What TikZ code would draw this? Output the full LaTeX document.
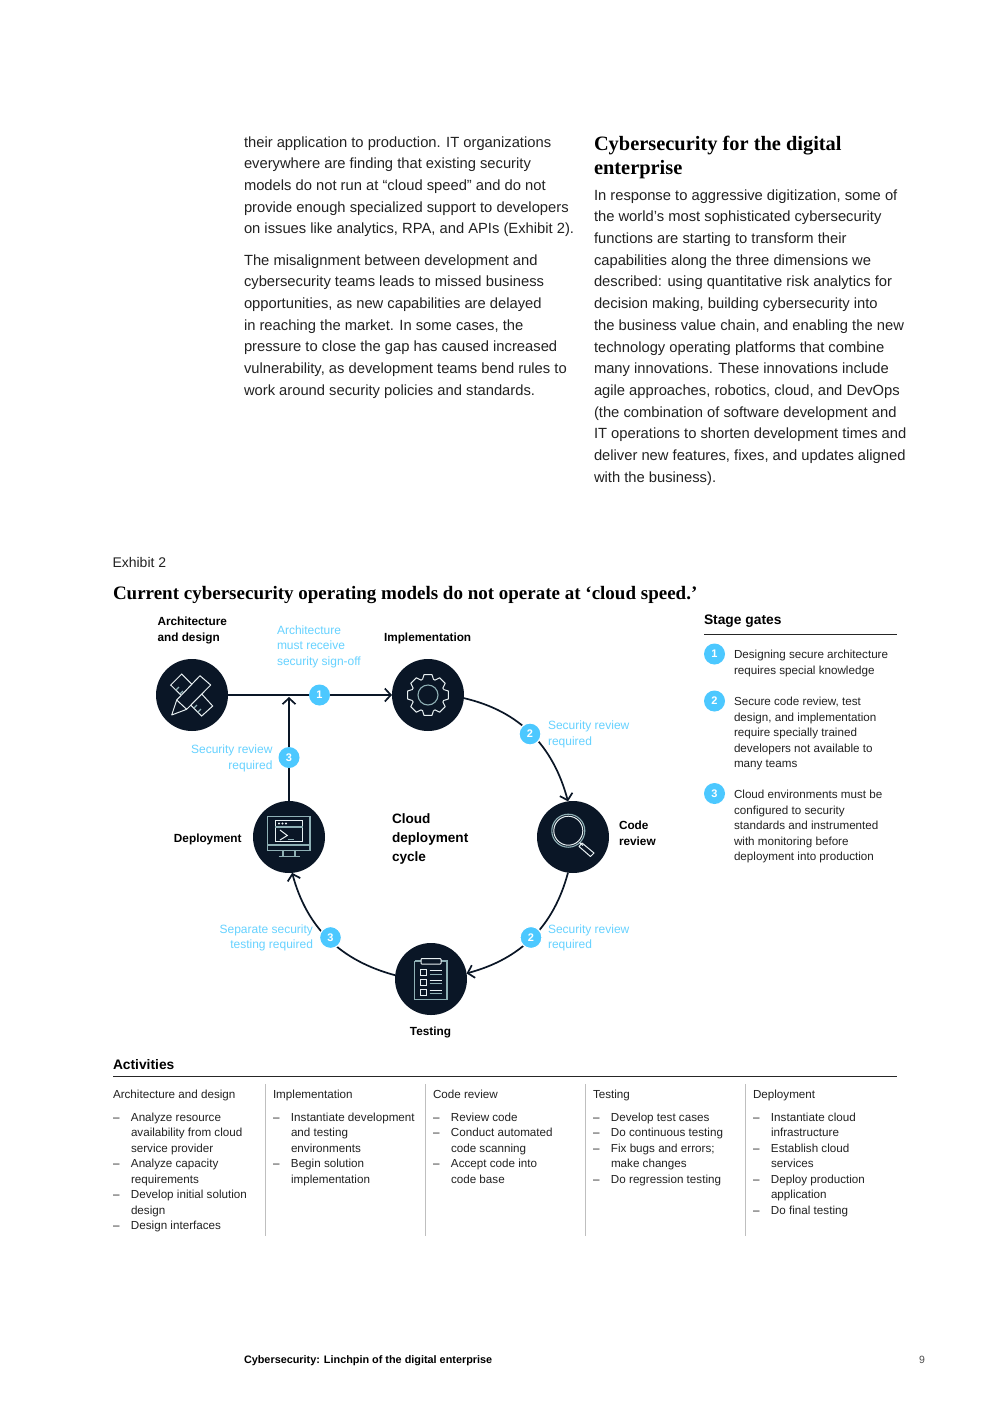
\documentclass[tikz,border=0pt]{standalone}
\usepackage{fontspec}
\setmainfont{Liberation Sans}
\newfontfamily\hserif{Liberation Serif}
\usetikzlibrary{arrows.meta}
\definecolor{ink}{HTML}{0A1626}
\definecolor{cyanb}{HTML}{4CC8FF}
\definecolor{cyant}{HTML}{66D2FF}
\definecolor{bodyt}{HTML}{222222}
\definecolor{iconw}{HTML}{E8F0F2}
\definecolor{icong}{HTML}{8FB0B5}
\newcommand{\dd}{\makebox[18pt][l]{–}}
\newcommand{\ee}{\makebox[18pt][l]{}}
\tikzset{
 x=1pt,y=-1pt,
 every node/.style={inner sep=0pt,outer sep=0pt},
 bodytxt/.style={anchor=north west,align=left,text=bodyt,font=\fontsize{14.75}{21.7}\selectfont},
 headtxt/.style={anchor=north west,align=left,text=black,font=\hserif\bfseries\fontsize{20.4}{24}\selectfont},
 smalltxt/.style={anchor=north west,align=left,text=bodyt,font=\fontsize{11.65}{15.5}\selectfont},
 boldlab/.style={align=left,text=black,font=\bfseries\fontsize{11.8}{16}\selectfont},
 cyanlab/.style={text=cyant,font=\fontsize{12}{15.5}\selectfont},
 sectitle/.style={anchor=west,text=black,font=\bfseries\fontsize{13.8}{16}\selectfont},
 stage/.style={circle,fill=ink,minimum size=72pt},
 badge/.style={circle,fill=cyanb,text=white,minimum size=21pt,font=\bfseries\fontsize{11}{12}\selectfont},
 badgeh/.style={badge,draw=white,line width=1.2pt,minimum size=22pt},
 flow/.style={draw=ink,line width=1.7pt,-{Straight Barb[length=6pt,width=13pt,line width=1.7pt]}},
 rulel/.style={draw=black!85,line width=0.8pt},
 sepl/.style={draw=black!25,line width=1pt},
 icw/.style={draw=iconw,line width=1pt},
 icg/.style={draw=icong,line width=1.1pt},
}
\begin{document}
\begin{tikzpicture}
\useasboundingbox (0,0) rectangle (992,1403);
\fill[white] (0,0) rectangle (992,1403);
% body text
\node[bodytxt] (p1) at (244,136.5) {their application to production. IT organizations\\everywhere are finding that existing security\\models do not run at “cloud speed” and do not\\provide enough specialized support to developers\\on issues like analytics, RPA, and APIs (Exhibit 2).};
\node[bodytxt] (p2) at (244,254.5) {The misalignment between development and\\cybersecurity teams leads to missed business\\opportunities, as new capabilities are delayed\\in reaching the market. In some cases, the\\pressure to close the gap has caused increased\\vulnerability, as development teams bend rules to\\work around security policies and standards.};
\node[headtxt] (h1) at (594,136) {Cybersecurity for the digital\\enterprise};
\node[bodytxt] (p3) at (594,189.5) {In response to aggressive digitization, some of\\the world’s most sophisticated cybersecurity\\functions are starting to transform their\\capabilities along the three dimensions we\\described: using quantitative risk analytics for\\decision making, building cybersecurity into\\the business value chain, and enabling the new\\technology operating platforms that combine\\many innovations. These innovations include\\agile approaches, robotics, cloud, and DevOps\\(the combination of software development and\\IT operations to shorten development times and\\deliver new features, fixes, and updates aligned\\with the business).};
\node[anchor=west,text=bodyt,font=\fontsize{14}{16}\selectfont] (ex) at (112.5,562.5) {Exhibit 2};
\node[anchor=west,text=black,font=\hserif\bfseries\fontsize{19}{22}\selectfont] (title) at (113,595) {Current cybersecurity operating models do not operate at ‘cloud speed.’};
% stages
\node[stage] (arch) at (192,695) {};
\node[stage] (impl) at (428,695) {};
\node[stage] (code) at (573,837) {};
\node[stage] (test) at (431,979) {};
\node[stage] (depl) at (289,837) {};
% connectors
\coordinate (join) at (289,697);
\draw[flow] (arch) -- (impl);
\draw[flow] (depl) -- (join);
\draw[flow] (impl.-5) to[out=-13,in=105] (code.98);
\draw[flow] (code.-98) to[out=-105,in=15] (test.9);
\draw[flow] (test.174) to[out=165,in=-75] (depl.-85);
% badges on diagram
\node[badge] (b1) at (319.5,695) {1};
\node[badge] (b3a) at (289,757.5) {3};
\node[badgeh] (b2a) at (530,734) {2};
\node[badgeh] (b2b) at (531,937.5) {2};
\node[badgeh] (b3b) at (330.5,937.5) {3};
% labels
\node[boldlab,anchor=north west] (larch) at (157.5,617) {Architecture\\and design};
\node[boldlab,anchor=west] (limpl) at (384,638.5) {Implementation};
\node[boldlab,anchor=north west] (lcode) at (619,821) {Code\\review};
\node[boldlab,anchor=east] (ldepl) at (241.5,839.5) {Deployment};
\node[boldlab,anchor=center] (ltest) at (430.5,1032.5) {Testing};
\node[anchor=north west,align=left,text=black,font=\bfseries\fontsize{13.6}{19}\selectfont] (lcyc) at (392,813.5) {Cloud\\deployment\\cycle};
\node[cyanlab,anchor=north west,align=left] (c1) at (277,625.5) {Architecture\\must receive\\security sign-off};
\node[cyanlab,anchor=north east,align=right] (c2) at (272.5,745) {Security review\\required};
\node[cyanlab,anchor=north west,align=left] (c3) at (548,721) {Security review\\required};
\node[cyanlab,anchor=north west,align=left] (c4) at (548,924.5) {Security review\\required};
\node[cyanlab,anchor=north east,align=right] (c5) at (313,924.5) {Separate security\\testing required};
% stage gates
\node[sectitle] (sg) at (704,621.5) {Stage gates};
\draw[rulel] (704,634) -- (897,634);
\node[badge] (g1) at (714.5,654) {1};
\node[badge] (g2) at (714.5,701) {2};
\node[badge] (g3) at (714.5,793.5) {3};
\node[smalltxt] (t1) at (734,650.5) {Designing secure architecture\\requires special knowledge};
\node[smalltxt] (t2) at (734,697.5) {Secure code review, test\\design, and implementation\\require specially trained\\developers not available to\\many teams};
\node[smalltxt] (t3) at (734,790.5) {Cloud environments must be\\configured to security\\standards and instrumented\\with monitoring before\\deployment into production};
% activities
\node[sectitle] (ac) at (113,1064.5) {Activities};
\draw[rulel] (113,1076.5) -- (897,1076.5);
\draw[sepl] (265.5,1084) -- (265.5,1236);
\draw[sepl] (425.5,1084) -- (425.5,1236);
\draw[sepl] (585.5,1084) -- (585.5,1236);
\draw[sepl] (745.5,1084) -- (745.5,1236);
\node[smalltxt] (a0) at (113,1090) {Architecture and design};
\node[smalltxt] (a1) at (273,1090) {Implementation};
\node[smalltxt] (a2) at (433,1090) {Code review};
\node[smalltxt] (a3) at (593,1090) {Testing};
\node[smalltxt] (a4) at (753,1090) {Deployment};
\node[smalltxt] (l0) at (113,1113) {\dd Analyze resource\\\ee availability from cloud\\\ee service provider\\\dd Analyze capacity\\\ee requirements\\\dd Develop initial solution\\\ee design\\\dd Design interfaces};
\node[smalltxt] (l1) at (273,1113) {\dd Instantiate development\\\ee and testing\\\ee environments\\\dd Begin solution\\\ee implementation};
\node[smalltxt] (l2) at (433,1113) {\dd Review code\\\dd Conduct automated\\\ee code scanning\\\dd Accept code into\\\ee code base};
\node[smalltxt] (l3) at (593,1113) {\dd Develop test cases\\\dd Do continuous testing\\\dd Fix bugs and errors;\\\ee make changes\\\dd Do regression testing};
\node[smalltxt] (l4) at (753,1113) {\dd Instantiate cloud\\\ee infrastructure\\\dd Establish cloud\\\ee services\\\dd Deploy production\\\ee application\\\dd Do final testing};
% footer
\node[anchor=west,text=black,font=\bfseries\fontsize{10.85}{12}\selectfont] (foot) at (244,1360.5) {Cybersecurity: Linchpin of the digital enterprise};
\node[anchor=center,text=black!70,font=\fontsize{10.5}{12}\selectfont] (pg) at (922,1360) {9};
% icon: ruler and pencil
\draw[icw,line join=round] (171.7,715) -- (176.7,700) -- (200,675.7) -- (210.7,685) -- (186.7,709.3) -- cycle;
\draw[icw] (176.7,700) -- (186.7,709.3);
\draw[icw] (180.9,695) -- (170.7,685) -- (181.7,674) -- (191.8,684.2);
\draw[icw] (201.7,694) -- (212.7,706) -- (201.7,716) -- (190.7,705);
\draw[icg] (176,690) -- (179,687) (180,694) -- (183,691) (194,708) -- (197,705) (198,712) -- (201,709);
% icon: gear
\foreach \a in {0,45,...,315}{
 \draw[icw,line join=round]
  ([shift={(\a-22.5+3:16.5)}]428,695) -- ([shift={(\a-11:20.8)}]428,695) -- ([shift={(\a+11:20.8)}]428,695) -- ([shift={(\a+22.5-3:16.5)}]428,695) -- ([shift={(\a+22.5+3:16.5)}]428,695);
}
\draw[icg] (428,695) circle (10);
% icon: magnifier
\draw[icg] (568.3,830.7) circle (16.5);
\draw[icw] (568.3,830.7) circle (14.5);
\draw[icw] (579.5,842.5) -- (583,845.5);
\draw[icw,line join=round] (582,843) -- (594,853) -- (590.5,856.5) -- (579,846.5) -- cycle;
% icon: monitor
\draw[icg] (267.5,816.5) rectangle (310,850.5);
\draw[icg] (267.5,845) -- (310,845);
\draw[icw] (275,820) rectangle (302.5,841.5);
\draw[icg] (275,827) -- (302.5,827);
\fill[iconw] (279,823.5) circle (1.1) (282.5,823.5) circle (1.1) (286,823.5) circle (1.1);
\draw[icw,line join=miter] (280,830) -- (287.3,835.5) -- (280,840);
\draw[icg] (287.5,839.5) -- (294,839.5);
\draw[icg] (283,850.5) -- (283,856.7) (295,850.5) -- (295,856.7);
\draw[icg] (278.5,856.7) -- (299.5,856.7);
% icon: clipboard
\draw[icg] (414.5,961) -- (414.5,999.5) -- (447,999.5) -- (447,961) -- (441,961) (421,961) -- (414.5,961);
\draw[icw,rounded corners=0.8pt] (421,958.5) rectangle (441,964);
\foreach \y in {969.5,979,989}{
 \draw[icw] (420.5,\y) rectangle (426,\y+6);
 \draw[icw] (429.5,\y+1.2) -- (441.5,\y+1.2);
 \draw[icg,line width=1.2pt] (429.5,\y+4.6) -- (441.5,\y+4.6);
}
\end{tikzpicture}
\end{document}
